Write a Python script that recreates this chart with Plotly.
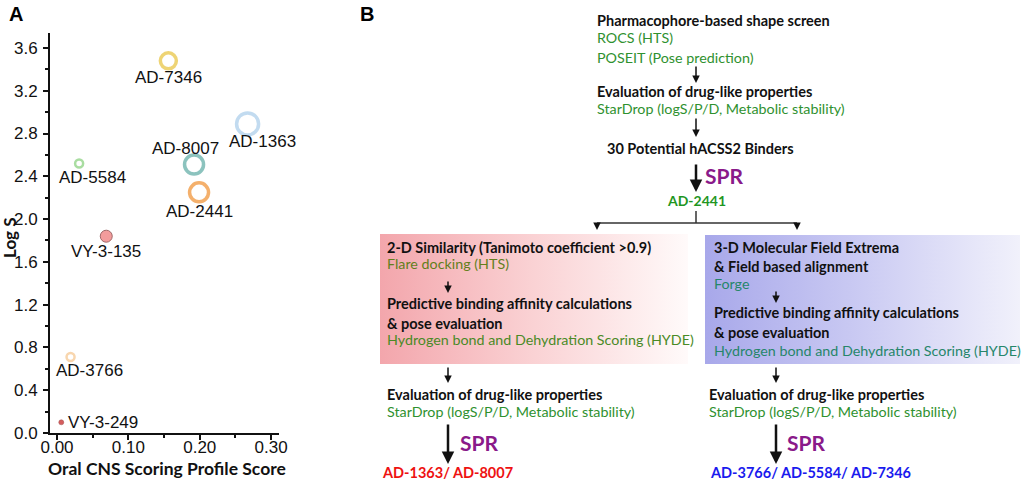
import plotly.graph_objects as go

# ---------------- Panel A data ----------------
compounds = ["AD-7346", "AD-1363", "AD-8007", "AD-2441", "AD-5584", "VY-3-135", "AD-3766", "VY-3-249"]
cns_score = [0.156, 0.267, 0.192, 0.199, 0.031, 0.069, 0.019, 0.006]
log_s = [3.48, 2.89, 2.51, 2.25, 2.52, 1.84, 0.71, 0.10]
x_tick_vals = [0.0, 0.1, 0.2, 0.3]
x_tick_text = ["0.00", "0.10", "0.20", "0.30"]
y_tick_vals = [0.0, 0.4, 0.8, 1.2, 1.6, 2.0, 2.4, 2.8, 3.2, 3.6]
y_tick_text = ["0.0", "0.4", "0.8", "1.2", "1.6", "2.0", "2.4", "2.8", "3.2", "3.6"]

# marker styling per compound
m_size = [16, 22, 19, 19, 8, 12, 8, 5]
m_fill = ["white", "white", "white", "white", "white", "#ef7373", "white", "#c41a1a"]
m_line = ["#e8c33c", "#a9cdea", "#5caaa3", "#f08f2e", "#86d07a", "#7a2a2a", "#f6c58c", "#7a1010"]
m_lw = [3.5, 3.5, 3.5, 3.5, 2.5, 1, 2.5, 0.5]
# label offsets (pixels) and anchor
lab_dx = [0, 15, -9, 0, 13, 0, 19, 5]
lab_dy = [-17, -18, 16, -19, -14, -15, -13, 0]
lab_anchor = ["center", "center", "center", "center", "center", "center", "center", "left"]

# ---------------- Panel B text ----------------
top_lines = [
    ("Pharmacophore-based shape screen", "bold"),
    ("ROCS (HTS)", "green"),
    ("POSEIT (Pose prediction)", "green"),
    ("Evaluation of drug-like properties", "bold"),
    ("StarDrop (logS/P/D, Metabolic stability)", "green"),
]
binders_text = "30 Potential hACSS2 Binders"
spr_text = "SPR"
hit_text = "AD-2441"
red_box_lines = [
    ("2-D Similarity (Tanimoto coefficient >0.9)", "bold"),
    ("Flare docking (HTS)", "olive"),
    ("Predictive binding affinity calculations", "bold"),
    ("& pose evaluation", "bold"),
    ("Hydrogen bond and Dehydration Scoring (HYDE)", "olivegreen"),
]
blue_box_lines = [
    ("3-D Molecular Field Extrema", "bold"),
    ("& Field based alignment", "bold"),
    ("Forge", "teal"),
    ("Predictive binding affinity calculations", "bold"),
    ("& pose evaluation", "bold"),
    ("Hydrogen bond and Dehydration Scoring (HYDE)", "teal"),
]
eval_lines = [
    ("Evaluation of drug-like properties", "bold"),
    ("StarDrop (logS/P/D, Metabolic stability)", "green"),
]
left_result = "AD-1363/ AD-8007"
right_result = "AD-3766/ AD-5584/ AD-7346"

W, H = 1024, 484
FLOW_FONT = "Lato, 'Open Sans', sans-serif"
ARIAL = "Arial, 'Liberation Sans', sans-serif"
COLORS = {
    "bold": "#111111",
    "green": "#2f912f",
    "olive": "#637f1c",
    "olivegreen": "#4a8a26",
    "teal": "#26866a",
}
BOLD_SIZE = 14.5
REG_SIZE = 14.3

fig = go.Figure()

# ---------------- Panel A scatter ----------------
fig.add_trace(go.Scatter(
    x=cns_score, y=log_s, mode="markers", xaxis="x", yaxis="y",
    marker=dict(size=m_size, color=m_fill, line=dict(color=m_line, width=m_lw)),
    hoverinfo="skip", showlegend=False,
))

annotations = []
for name, xv, yv, dx, dy, anc in zip(compounds, cns_score, log_s, lab_dx, lab_dy, lab_anchor):
    annotations.append(dict(
        x=xv, y=yv, xref="x", yref="y", text=name, showarrow=False,
        xshift=dx, yshift=dy, xanchor=anc, yanchor="middle",
        font=dict(family=ARIAL, size=17, color="#111111"),
    ))

# ---------------- Panel B gradient boxes ----------------
def box_trace(x0, x1, y0, y1, scale):
    return go.Scatter(
        x=[x0, x1, x1, x0, x0], y=[y0, y0, y1, y1, y0], xaxis="x2", yaxis="y2",
        mode="lines", line=dict(width=0), fill="toself",
        fillgradient=dict(type="horizontal", colorscale=scale),
        hoverinfo="skip", showlegend=False,
    )

fig.add_trace(box_trace(380, 688, 234, 364,
                        [[0, "#f3a6ac"], [0.5, "#fad2d4"], [1, "#fffafa"]]))
fig.add_trace(box_trace(705, 1020, 235, 364,
                        [[0, "#a8a8ea"], [0.5, "#cbcbf3"], [1, "#f1f1fb"]]))


def txt(x, y, s, style, size=None, anchor="left"):
    bold = style == "bold"
    color = COLORS.get(style, style)
    if size is None:
        size = BOLD_SIZE if bold else REG_SIZE
    annotations.append(dict(
        x=x, y=y, xref="x2", yref="y2", text=f"<b>{s}</b>" if bold else s,
        showarrow=False, xanchor=anchor, yanchor="middle",
        font=dict(family=FLOW_FONT, size=size, color=color),
    ))


def arrow(x, y0, y1, width=1.5, head=2, hsize=1.0):
    annotations.append(dict(
        x=x, y=y1, ax=x, ay=y0, xref="x2", yref="y2", axref="x2", ayref="y2",
        text="", showarrow=True, arrowhead=head, arrowsize=hsize,
        arrowwidth=width, arrowcolor="#111111",
    ))


# top block
for (s, st), yy in zip(top_lines, [20, 37, 57, 91, 108]):
    txt(595, yy, s, st)
arrow(696, 65, 83)
arrow(696, 117, 137)
txt(605, 148, binders_text, "bold")
arrow(696, 163, 192, width=2.5)
txt(703, 175, f"<b>{spr_text}</b>", "#8a1a8a", size=21)
txt(696, 200, f"<b>{hit_text}</b>", "#1f961f", size=14, anchor="center")

# bracket
shapes = [
    dict(type="line", xref="x2", yref="y2", x0=696, x1=696, y0=211, y1=223,
         line=dict(color="#333333", width=1.5)),
    dict(type="line", xref="x2", yref="y2", x0=597, x1=797, y0=223, y1=223,
         line=dict(color="#333333", width=1.5)),
]
arrow(597, 223, 230)
arrow(797, 223, 230)

# red box
for (s, st), yy in zip(red_box_lines, [247, 263, 303, 323, 339]):
    txt(385, yy, s, st)
arrow(448, 280, 293)

# blue box
for (s, st), yy in zip(blue_box_lines, [247, 266, 283, 312, 332, 350]):
    txt(712, yy, s, st)
arrow(776, 290, 303)

# lower branches
for bx, ax_, sx, rx, res, rcol in [
    (385, 448, 458, 380, left_result, "#ee1111"),
    (707, 776, 785, 708, right_result, "#1a1aee"),
]:
    arrow(ax_, 366, 383)
    for (s, st), yy in zip(eval_lines, [394, 411]):
        txt(bx, yy, s, st)
    arrow(ax_, 423, 464, width=2.5)
    txt(sx, 442, f"<b>{spr_text}</b>", "#8a1a8a", size=21)
    txt(rx, 472, f"<b>{res}</b>", rcol, size=BOLD_SIZE)

# panel letters and axis titles
for lx, letter in [(16, "A"), (367, "B")]:
    annotations.append(dict(x=lx, y=14, xref="x2", yref="y2", text=f"<b>{letter}</b>",
                            showarrow=False, xanchor="center", yanchor="middle",
                            font=dict(family=ARIAL, size=20, color="#000000")))
annotations.append(dict(x=167, y=468, xref="x2", yref="y2", text="<b>Oral CNS Scoring Profile Score</b>",
                        showarrow=False, xanchor="center", yanchor="middle",
                        font=dict(family=FLOW_FONT, size=17.5, color="#111111")))
annotations.append(dict(x=9, y=238, xref="x2", yref="y2", text="<b>Log S</b>", textangle=-90,
                        showarrow=False, xanchor="center", yanchor="middle",
                        font=dict(family=FLOW_FONT, size=17, color="#111111")))

axis_common = dict(
    showline=True, linecolor="#111111", linewidth=2, ticks="outside", ticklen=5,
    tickwidth=2, tickcolor="#111111", showgrid=False, zeroline=False,
    tickfont=dict(family=ARIAL, size=17, color="#111111"),
)

fig.update_layout(
    autosize=True, margin=dict(l=0, r=0, t=0, b=0, autoexpand=False),
    paper_bgcolor="white", plot_bgcolor="rgba(0,0,0,0)",
    xaxis=dict(domain=[50 / W, 279 / W], range=[-0.0098, 0.311], anchor="y",
               tickvals=x_tick_vals, ticktext=x_tick_text, ticklabelstandoff=-7,
               minor=dict(dtick=0.05, tick0=0, ticks="outside", ticklen=3, tickwidth=2,
                          tickcolor="#111111"),
               **axis_common),
    yaxis=dict(domain=[(H - 433) / H, (H - 33) / H], range=[0, 3.74], anchor="x",
               tickvals=y_tick_vals, ticktext=y_tick_text, ticklabelstandoff=2,
               minor=dict(dtick=0.2, tick0=0, ticks="outside", ticklen=3, tickwidth=2,
                          tickcolor="#111111"),
               **axis_common),
    xaxis2=dict(domain=[0, 1], range=[0, W], visible=False, anchor="y2", fixedrange=True),
    yaxis2=dict(domain=[0, 1], range=[H, 0], visible=False, anchor="x2", fixedrange=True),
    annotations=annotations, shapes=shapes, showlegend=False,
)

fig.write_html(
    "out.html",
    default_width="100vw", default_height="100vh",
    config={"displayModeBar": False, "responsive": True},
    post_script="document.body.style.margin='0';document.body.style.overflow='hidden';",
)
